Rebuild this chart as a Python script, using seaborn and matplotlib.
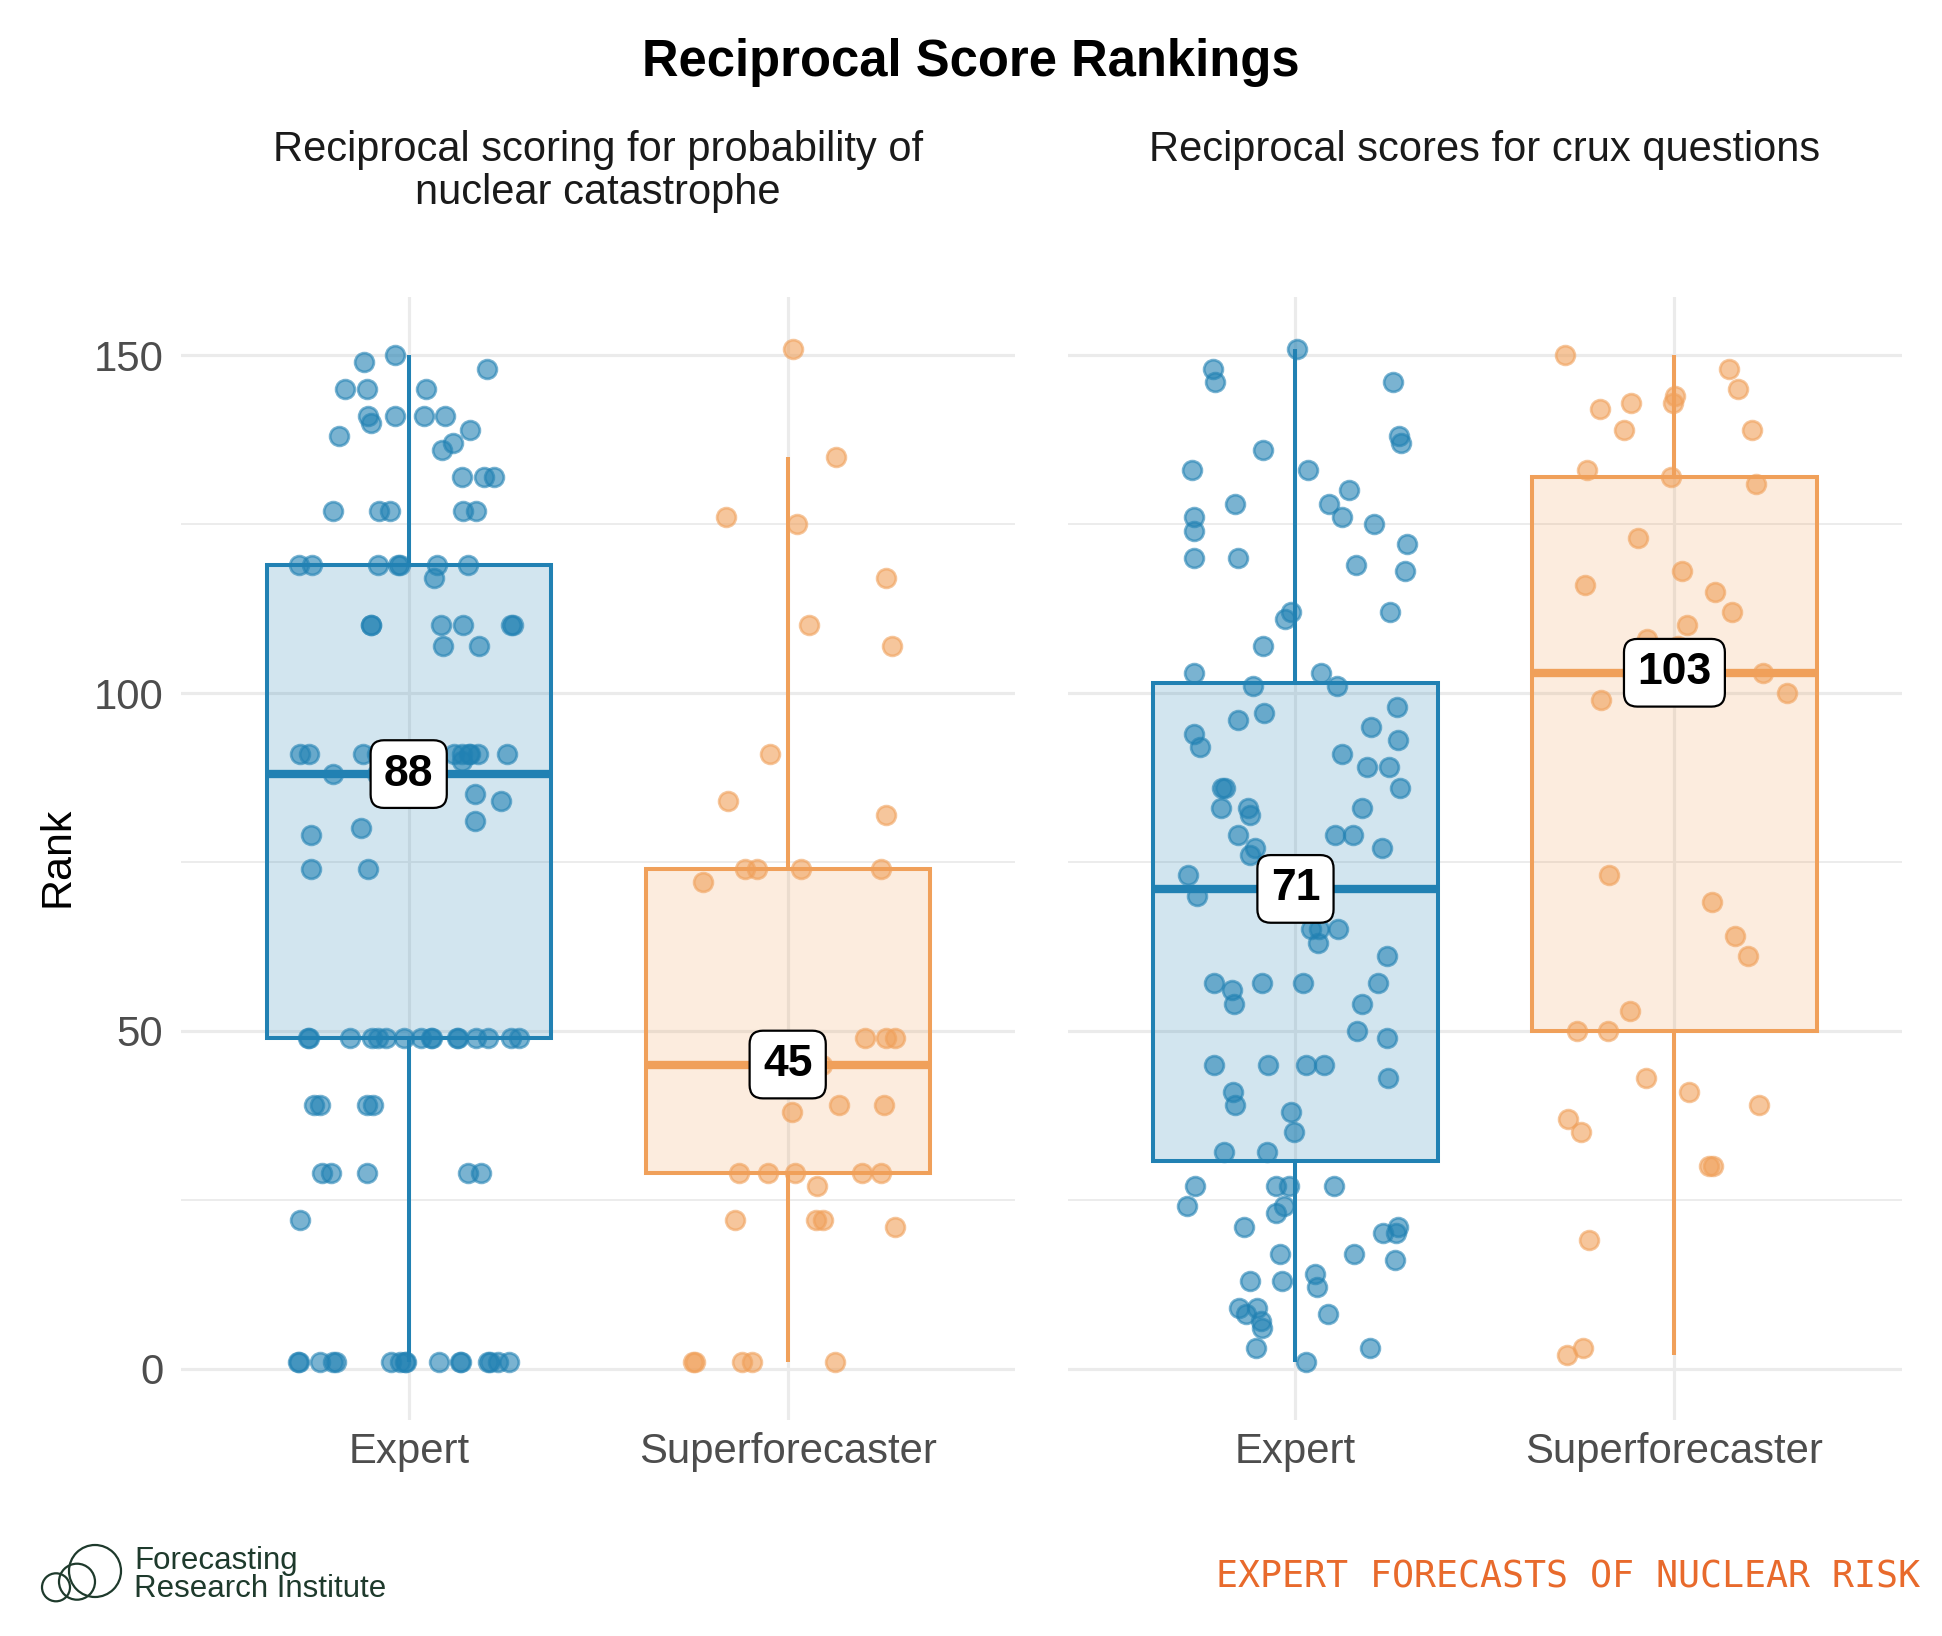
import numpy as np
import pandas as pd
import matplotlib
matplotlib.use("Agg")
import matplotlib.pyplot as plt
import seaborn as sns
from matplotlib.ticker import MultipleLocator
from matplotlib.colors import to_rgba
from matplotlib.patches import Circle

# ---------------- data ----------------
categories = ["Expert", "Superforecaster"]
panel_titles = [["Reciprocal scoring for probability of", "nuclear catastrophe"],
                ["Reciprocal scores for crux questions"]]

nuclear_expert = [1, 1, 1, 1, 1, 1, 1, 1, 1, 1, 1, 1, 1, 1, 1, 1,
                  22, 29, 29, 29, 29, 29, 39, 39, 39, 39,
                  49, 49, 49, 49, 49, 49, 49, 49, 49, 49, 49, 49, 49, 49, 49, 49,
                  74, 74, 79, 80, 81, 84, 85, 85, 88, 88, 88, 89, 90,
                  91, 91, 91, 91, 91, 91, 91, 91, 91, 91, 91,
                  107, 107, 110, 110, 110, 110, 110, 110, 117,
                  119, 119, 119, 119, 119, 119, 119,
                  127, 127, 127, 127, 127, 132, 132, 132, 136, 137, 138, 139, 140,
                  141, 141, 141, 141, 145, 145, 145, 148, 149, 150]
nuclear_super = [1, 1, 1, 1, 1, 21, 22, 22, 22, 27, 29, 29, 29, 29, 29,
                 38, 39, 39, 45, 45, 45, 45, 45, 49, 49, 49, 72, 74, 74, 74, 74,
                 82, 84, 91, 107, 110, 117, 125, 126, 135, 151]
crux_expert = [151, 148, 146, 146, 138, 137, 136, 133, 133, 130, 128, 126, 128, 126,
               124, 125, 122, 120, 120, 118, 119, 111, 112, 112, 107, 103, 103, 101,
               101, 98, 97, 96, 94, 95, 92, 93, 91, 89, 89, 86, 86, 86, 83, 83, 83,
               82, 79, 79, 79, 77, 77, 76, 73, 72, 70, 68, 65, 65, 65, 63, 61, 57,
               57, 57, 57, 56, 54, 54, 50, 49, 45, 45, 45, 45, 43, 41, 39, 38, 35,
               32, 32, 27, 27, 27, 27, 23, 24, 24, 21, 21, 20, 20, 17, 17, 16, 13,
               12, 14, 13, 9, 9, 8, 8, 7, 6, 3, 3, 1]
crux_super = [150, 148, 144, 145, 143, 143, 139, 142, 139, 132, 131, 133, 123, 118,
              115, 116, 112, 110, 107, 108, 103, 103, 100, 99, 73, 69, 64, 61, 53,
              50, 50, 43, 41, 39, 37, 35, 30, 30, 19, 3, 2]

panels = [
    {"Expert": nuclear_expert, "Superforecaster": nuclear_super},
    {"Expert": crux_expert, "Superforecaster": crux_super},
]

# ---------------- style ----------------
sns.set_theme(style="white")
plt.rcParams["font.family"] = ["Liberation Sans", "DejaVu Sans"]

colors = {"Expert": "#2181B3", "Superforecaster": "#F0A05A"}
grid_col = "#EBEBEB"
tick_col = "#4D4D4D"

W, H = 1942, 1636
fig = plt.figure(figsize=(W / 100, H / 100), dpi=100)
fig.patch.set_facecolor("white")

ax_bottom = 1 - 1419.5 / H
ax_height = (1419.5 - 297.2) / H
ax1 = fig.add_axes([181.3 / W, ax_bottom, (1015.1 - 181.3) / W, ax_height])
ax2 = fig.add_axes([1068.1 / W, ax_bottom, (1901.8 - 1068.1) / W, ax_height], sharey=ax1)

np.random.seed(11)
for ax, panel in zip([ax1, ax2], panels):
    rows = []
    for cat in categories:
        for v in panel[cat]:
            rows.append({"group": cat, "rank": v})
    df = pd.DataFrame(rows)

    for cat in categories:
        c = colors[cat]
        sub = df[df["group"] == cat]
        sns.boxplot(data=sub, x="group", y="rank", order=categories, color=c,
                    linecolor=c, saturation=1, width=0.75, linewidth=2.9,
                    showcaps=False, showfliers=False,
                    boxprops={"facecolor": to_rgba(c, 0.2), "zorder": 2},
                    whiskerprops={"zorder": 2},
                    medianprops={"linewidth": 6, "zorder": 2.5}, ax=ax)
    for cat in categories:
        c = colors[cat]
        sub = df[df["group"] == cat]
        sns.stripplot(data=sub, x="group", y="rank", order=categories, color=c,
                      jitter=0.3, size=13.5, alpha=0.6, edgecolor=c, linewidth=2,
                      zorder=3, ax=ax)

    for i, cat in enumerate(categories):
        med = float(np.median(panel[cat]))
        ax.text(i, med, f"{med:.0f}", ha="center", va="center", fontsize=32,
                fontweight="bold", color="black", zorder=6,
                bbox=dict(boxstyle="round,pad=0.3,rounding_size=0.3", fc="white",
                          ec="black", lw=1.6))

    ax.set_xlim(-0.6, 1.6)
    ax.set_ylim(-7.55, 158.6)
    ax.set_xlabel("")
    ax.set_ylabel("")
    ax.set_xticks([0, 1])
    ax.set_xticklabels(categories)
    ax.yaxis.set_major_locator(MultipleLocator(50))
    ax.yaxis.set_minor_locator(MultipleLocator(25))
    ax.grid(True, which="major", axis="both", color=grid_col, linewidth=2.3, zorder=0)
    ax.grid(True, which="minor", axis="y", color=grid_col, linewidth=1.3, zorder=0)
    ax.set_axisbelow(True)
    for s in ax.spines.values():
        s.set_visible(False)
    ax.tick_params(axis="both", which="both", length=0, labelsize=30.2,
                   labelcolor=tick_col)
    ax.tick_params(axis="x", pad=9)
    ax.tick_params(axis="y", pad=13)
    ax.set_facecolor("white")

ax2.tick_params(axis="y", labelleft=False)

# ---------------- texts ----------------
fig.text(0.5, 1 - 76 / H, "Reciprocal Score Rankings", ha="center", va="baseline",
         fontsize=36.5, fontweight="bold", color="black")
fig.text(598.2 / W, 1 - 161 / H, panel_titles[0][0], ha="center", va="baseline",
         fontsize=30, color="#1A1A1A")
fig.text(598.2 / W, 1 - 204 / H, panel_titles[0][1], ha="center", va="baseline",
         fontsize=30, color="#1A1A1A")
fig.text(1485 / W, 1 - 161 / H, panel_titles[1][0], ha="center", va="baseline",
         fontsize=30, color="#1A1A1A")
fig.text(57 / W, 1 - 857 / H, "Rank", rotation=90, ha="center", va="center",
         fontsize=31, color="black")

# footer
fig.text(1920 / W, 1 - 1587 / H, "EXPERT FORECASTS OF NUCLEAR RISK", ha="right",
         va="baseline", fontsize=26.4, color="#E86A2C", family="DejaVu Sans Mono")
logo_col = "#1E3A2C"
for (cx, cy, r) in [(95, 1571, 26), (77, 1581.7, 18), (56, 1587.3, 14)]:
    fig.patches.append(Circle((cx / 100, (H - cy) / 100), r / 100, fill=False,
                              ec=logo_col, lw=1.6, transform=fig.dpi_scale_trans))
fig.text(134 / W, 1 - 1569 / H, "Forecasting", ha="left", va="baseline",
         fontsize=22.5, color=logo_col)
fig.text(134 / W, 1 - 1597 / H, "Research Institute", ha="left", va="baseline",
         fontsize=22.5, color=logo_col)

fig.savefig("out.png", dpi=100, facecolor="white")
